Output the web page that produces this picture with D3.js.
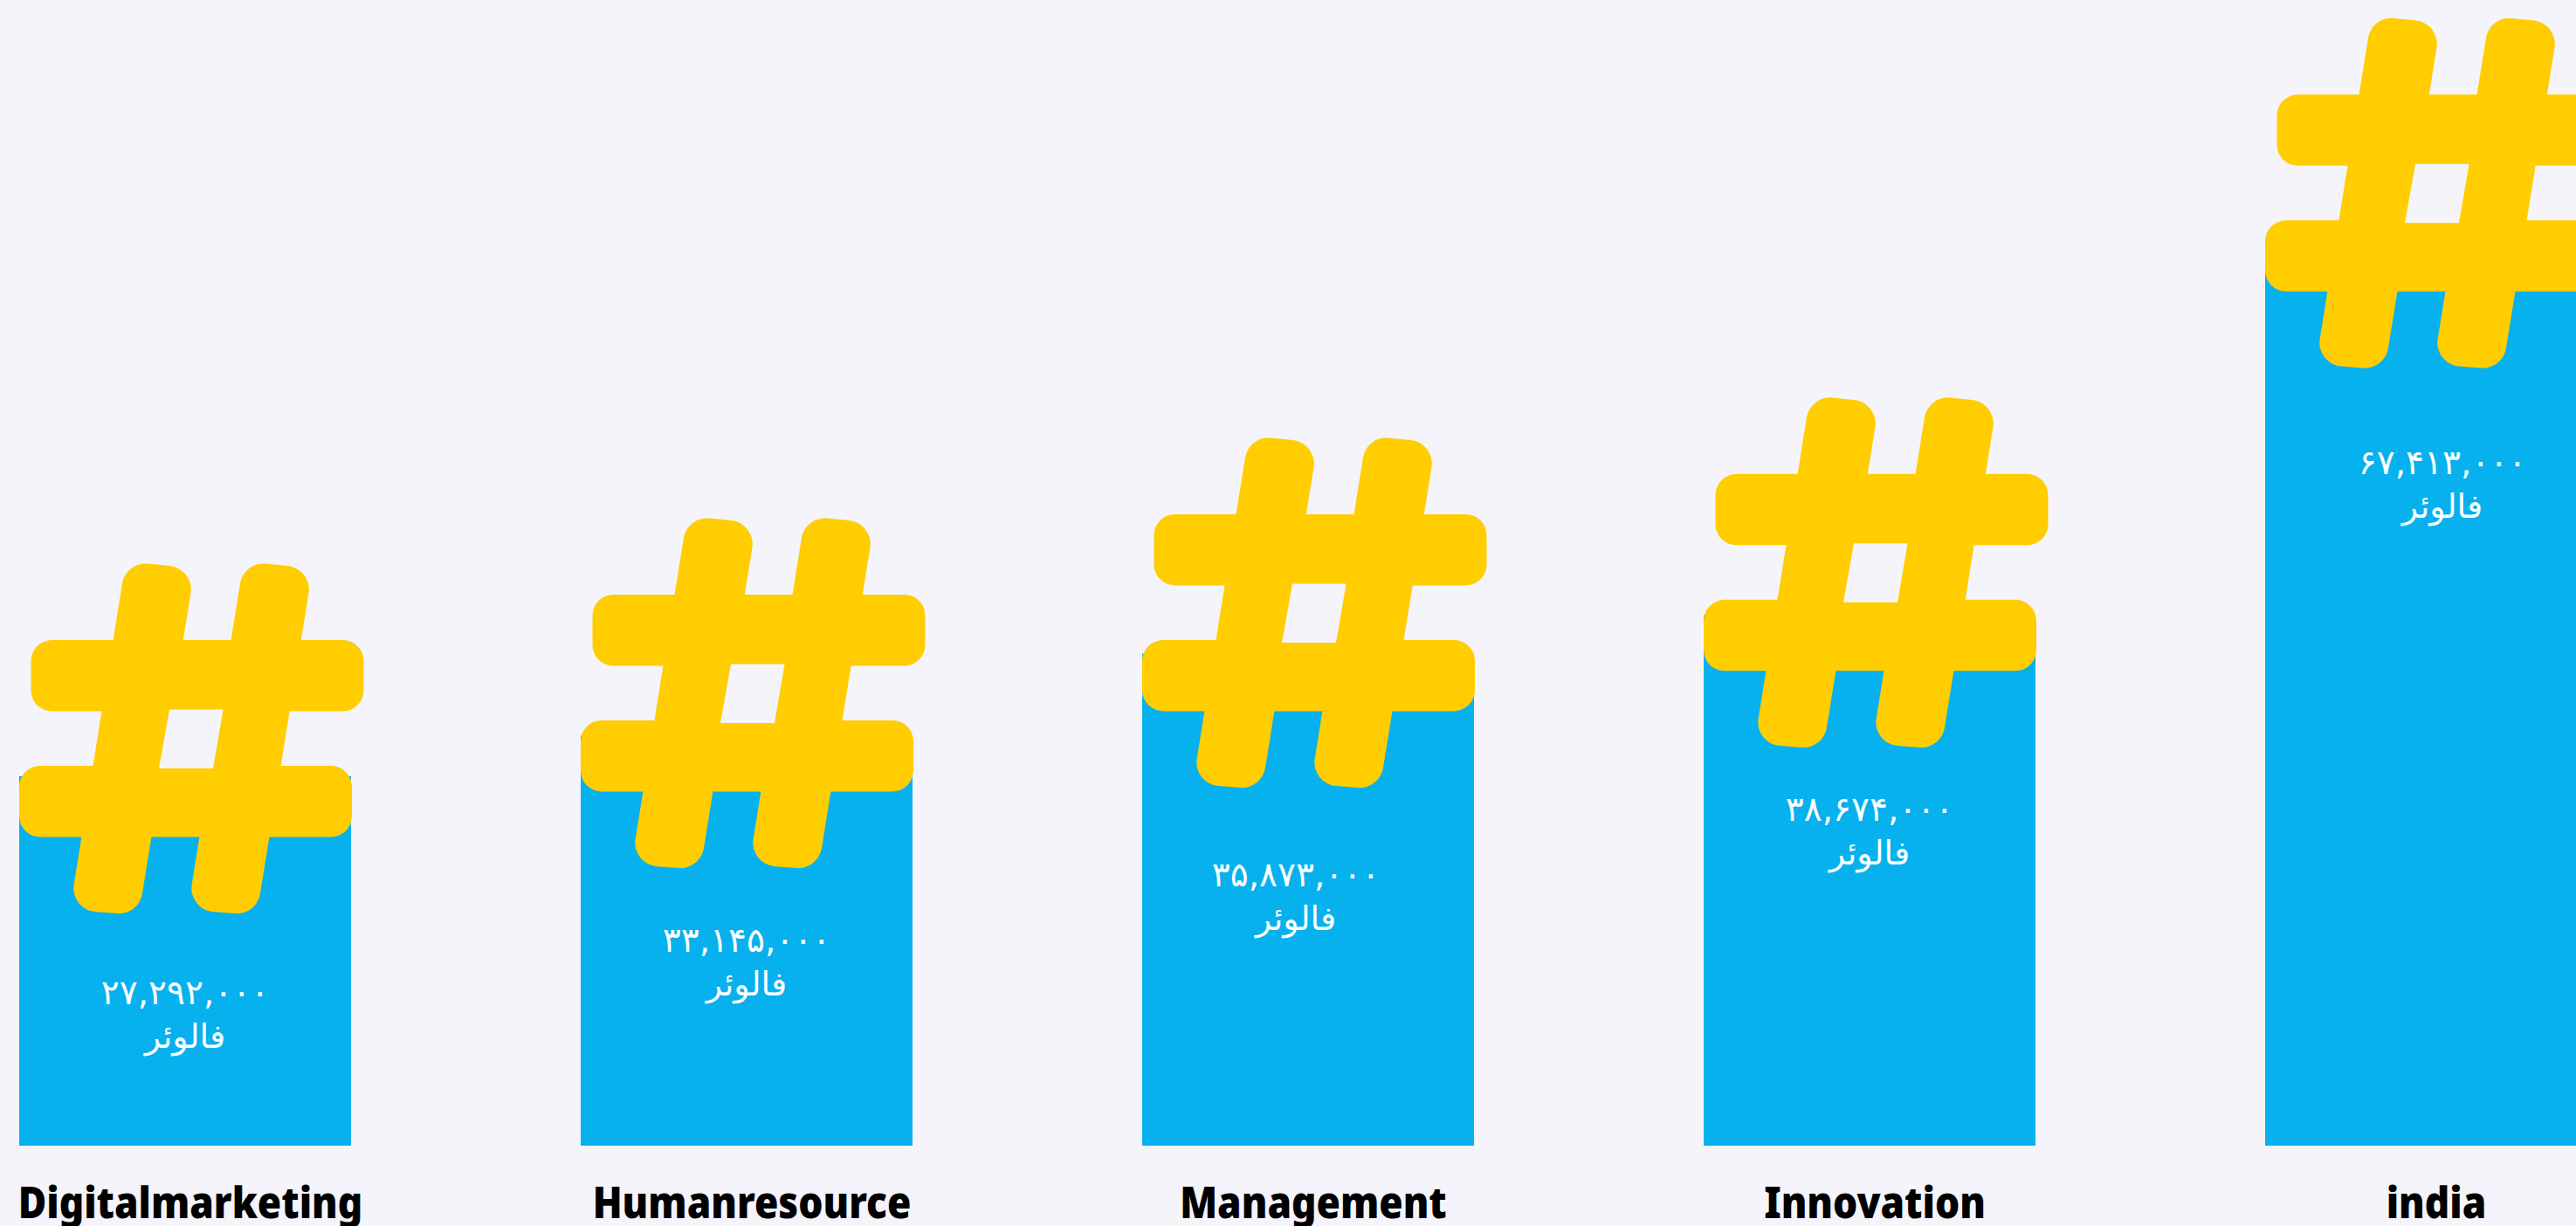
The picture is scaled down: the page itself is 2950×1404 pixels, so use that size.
<!DOCTYPE html>
<html><head><meta charset="utf-8">
<script src="https://cdn.jsdelivr.net/npm/d3@7"></script>
<style>html,body{margin:0;padding:0;background:#f4f4fa;overflow:hidden}svg{display:block}</style>
</head><body><svg id="c" width="2950" height="1404"></svg>
<script>
const categories=["Digitalmarketing","Humanresource","Management","Innovation","india"];
const followerLabels=["۲۷,۲۹۲,۰۰۰","۳۳,۱۴۵,۰۰۰","۳۵,۸۷۳,۰۰۰","۳۸,۶۷۴,۰۰۰","۶۷,۴۱۳,۰۰۰"];
// The source is not drawn to scale: levels, in thousands of followers on a scale anchored at the first bar
const barLevels=[27292,30300,36350,39200,66900];
const hashLevels=[28066,31424,37364,40334,68370];
const labelLevels=[10447,14330,19170,24020,49630];
const labelShift=[0,0,-14,0,13];
const unitLabel="فالوئر";
const bg="#f4f4fa",blue="#07b1ee",yellow="#ffcd00";
const svg=d3.select("#c");
const x=d3.scalePoint().domain(categories).range([212,2784]);
const y=d3.scaleLinear().domain([0,27292]).range([1312,889]);

function rounded(pts,r){
  const p=d3.path(),n=pts.length;
  const a=pts[n-1],b=pts[0];
  p.moveTo((a[0]+b[0])/2,(a[1]+b[1])/2);
  for(let i=0;i<n;i++){const c=pts[i],d=pts[(i+1)%n];p.arcTo(c[0],c[1],(c[0]+d[0])/2,(c[1]+d[1])/2,r);}
  p.closePath();return p.toString();
}
// hash glyph, origin at the left end / top of its lower arm
const arms=[
  [[0,0],[381,0],[381,81.5],[0,81.5]],
  [[13.5,-144],[394.5,-144],[394.5,-62.5],[13.5,-62.5]]
].map(p=>rounded(p,24));
const strokes=[
  [[122,-234],[201,-226],[137,171],[58,165]],
  [[257,-234],[336,-226],[272,171],[193,165]]
].map(p=>rounded(p,27));
const hashPaths=arms.concat(strokes).join("");
const hole=[[172,-64.5],[233.6,-64.5],[222,3],[160,3]];

const g=svg.selectAll("g.b").data(categories).join("g").attr("class","b");
g.append("rect").attr("x",d=>x(d)-190).attr("width",380)
  .attr("y",(d,i)=>y(barLevels[i])).attr("height",(d,i)=>y(0)-y(barLevels[i])).attr("fill",blue);
const h=g.append("g").attr("transform",(d,i)=>`translate(${x(d)-190},${y(hashLevels[i])})`);
h.append("path").attr("d",hashPaths).attr("fill",yellow);
h.append("path").attr("d",d3.line()(hole)+"Z").attr("fill",bg);
g.append("text").attr("transform",d=>`translate(${x(d)+6},1395) scale(0.905,1)`).attr("text-anchor","middle")
  .attr("font-family","Noto Sans").attr("font-weight",900).attr("font-size",49).attr("fill","#000").text(d=>d);
g.append("text").attr("x",(d,i)=>x(d)+labelShift[i]).attr("y",(d,i)=>y(labelLevels[i])).attr("text-anchor","middle").attr("direction","ltr")
  .attr("font-family","DejaVu Sans").attr("font-size",39).attr("fill","#fff").text((d,i)=>followerLabels[i]);
g.append("text").attr("x",(d,i)=>x(d)+labelShift[i]).attr("y",(d,i)=>y(labelLevels[i])+50).attr("text-anchor","middle")
  .attr("font-family","DejaVu Sans").attr("font-size",38).attr("fill","#fff").text(unitLabel);
</script></body></html>
